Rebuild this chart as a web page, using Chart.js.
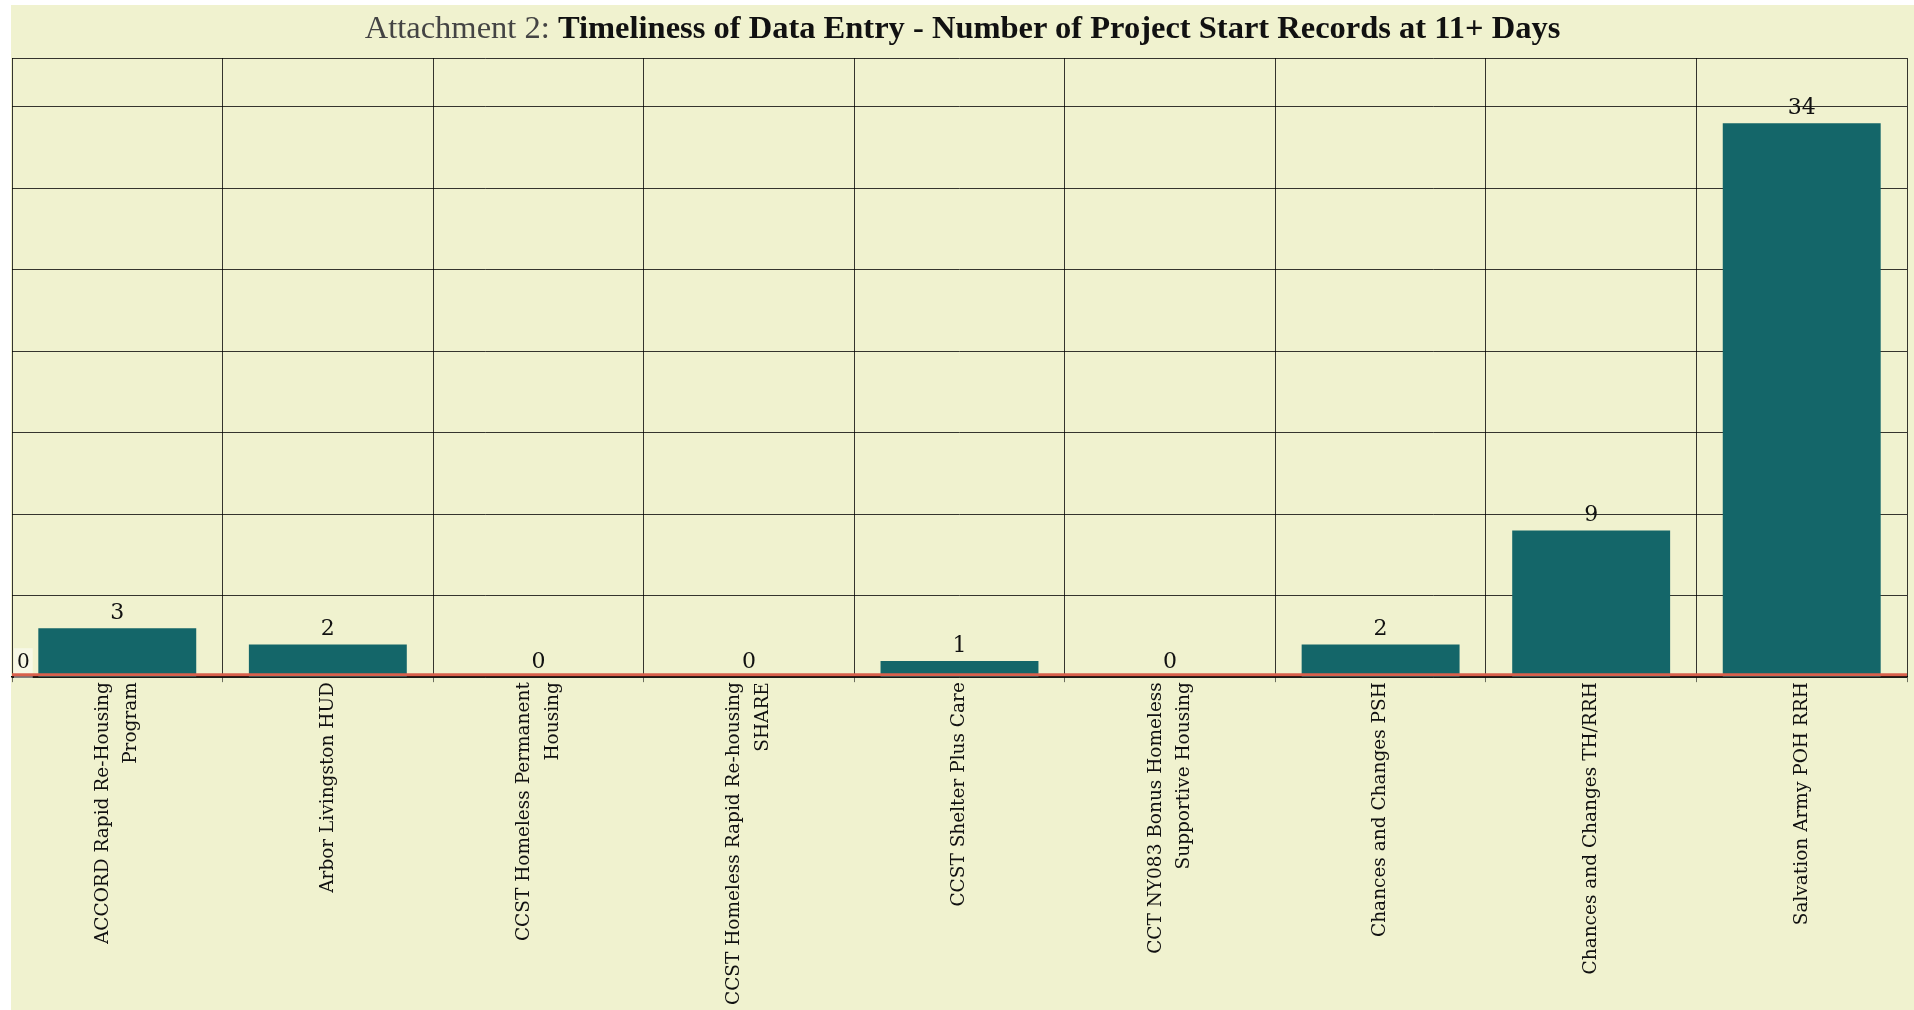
<!DOCTYPE html>
<html>
<head>
<meta charset="utf-8">
<script src="https://cdn.jsdelivr.net/npm/chart.js@4"></script>
<style>
    body { margin: 0; background: #fff; }
    #wrap {
        position: absolute; left: 11px; top: 5px;
        width: 1903px; height: 1005px;
        background: #f0f2cf;
    }
    #title {
        position: absolute; left: 0; top: 0; width: 100%;
        height: 53px; line-height: 44px;
        text-align: center;
        font-family: 'Liberation Serif', serif;
        font-size: 32.5px; color: #111;
    }
    #title .pre { color: #444; font-weight: normal; }
    #title .main { font-weight: bold; }
    canvas { position: absolute; left: 0; top: 0; }
</style>
</head>
<body>
<div id="wrap">
    <canvas id="chart" width="1903" height="1005"></canvas>
    <div id="title"><span class="pre">Attachment 2:</span> <span class="main">Timeliness of Data Entry - Number of Project Start Records at 11+ Days</span></div>
</div>
<script>
// Projects along the x axis (multi-line labels as arrays)
const projects = [
    ['ACCORD Rapid Re-Housing', 'Program'],
    'Arbor Livingston HUD',
    ['CCST Homeless Permanent', 'Housing'],
    ['CCST Homeless Rapid Re-housing', 'SHARE'],
    'CCST Shelter Plus Care',
    ['CCT NY083 Bonus Homeless', 'Supportive Housing'],
    'Chances and Changes PSH',
    'Chances and Changes TH/RRH',
    'Salvation Army POH RRH',
];

// Number of project start records entered at 11+ days
const lateRecords = [3, 2, 0, 0, 1, 0, 2, 9, 34];

const BAR_COLOR = '#146669';
const GRID_COLOR = 'rgba(0, 0, 0, 0.78)';
const SERIF = "'DejaVu Serif', serif";

// Center multi-line rotated labels on their tick (Chart.js puts the first line on it)
const centerLabels = {
    id: 'centerLabels',
    beforeDraw(chart) {
        const scale = chart.scales.x;
        const items = scale.getLabelItems(chart.chartArea);
        items.forEach((item) => {
            if (Array.isArray(item.label) && item.label.length > 1) {
                const lh = item.font.lineHeight;
                item.options.translation[0] -= lh * (item.label.length - 1) / 2;
            }
        });
    }
};

// Red base line just above the axis
const baseLine = {
    id: 'baseLine',
    afterDatasetsDraw(chart) {
        const { ctx, chartArea, scales } = chart;
        const y0 = scales.y.getPixelForValue(0);
        ctx.save();
        ctx.strokeStyle = '#d9604c';
        ctx.lineWidth = 3;
        ctx.beginPath();
        ctx.moveTo(chartArea.left, y0 - 2.5);
        ctx.lineTo(chartArea.right, y0 - 2.5);
        ctx.stroke();
        ctx.restore();
    }
};

// Value labels above each bar
const valueLabels = {
    id: 'valueLabels',
    afterDraw(chart) {
        const { ctx } = chart;
        const meta = chart.getDatasetMeta(0);
        ctx.save();
        ctx.font = '22px ' + SERIF;
        ctx.fillStyle = '#111';
        ctx.textAlign = 'center';
        ctx.textBaseline = 'bottom';
        meta.data.forEach((bar, i) => {
            ctx.fillText(String(lateRecords[i]), bar.x, bar.y - 4);
        });
        ctx.restore();
    }
};

new Chart(document.getElementById('chart'), {
    type: 'bar',
    data: {
        labels: projects,
        datasets: [{
            label: 'Records at 11+ days',
            data: lateRecords,
            backgroundColor: BAR_COLOR,
            borderWidth: 0,
            barPercentage: 0.75,
            categoryPercentage: 1,
        }],
    },
    options: {
        responsive: false,
        animation: false,
        layout: { padding: { top: 53, left: 1, right: 7, bottom: 5 } },
        plugins: {
            legend: { display: false },
            tooltip: { enabled: false },
        },
        scales: {
            x: {
                grid: {
                    color: GRID_COLOR,
                    lineWidth: 1,
                    tickLength: 5,
                    tickColor: 'rgba(0,0,0,0.55)',
                },
                border: { color: '#000', width: 1.5 },
                ticks: {
                    color: '#111',
                    font: { family: SERIF, size: 18.5, lineHeight: 1.55 },
                    maxRotation: 90,
                    minRotation: 90,
                    autoSkip: false,
                    padding: 0,
                },
            },
            y: {
                min: 0,
                max: 38,
                afterFit: (scale) => { scale.width = 0; },
                grid: {
                    color: GRID_COLOR,
                    lineWidth: 1,
                    drawTicks: false,
                },
                border: { display: false },
                ticks: {
                    stepSize: 5,
                    mirror: true,
                    padding: 5,
                    labelOffset: -14,
                    color: '#111',
                    font: { family: SERIF, size: 20 },
                    showLabelBackdrop: (ctx) => ctx.tick && ctx.tick.value === 0,
                    backdropColor: 'rgba(255, 255, 255, 0.45)',
                    backdropPadding: 3,
                    callback: (v) => (v === 0 ? '0' : ''),
                },
            },
        },
    },
    plugins: [centerLabels, baseLine, valueLabels],
});
</script>
</body>
</html>
